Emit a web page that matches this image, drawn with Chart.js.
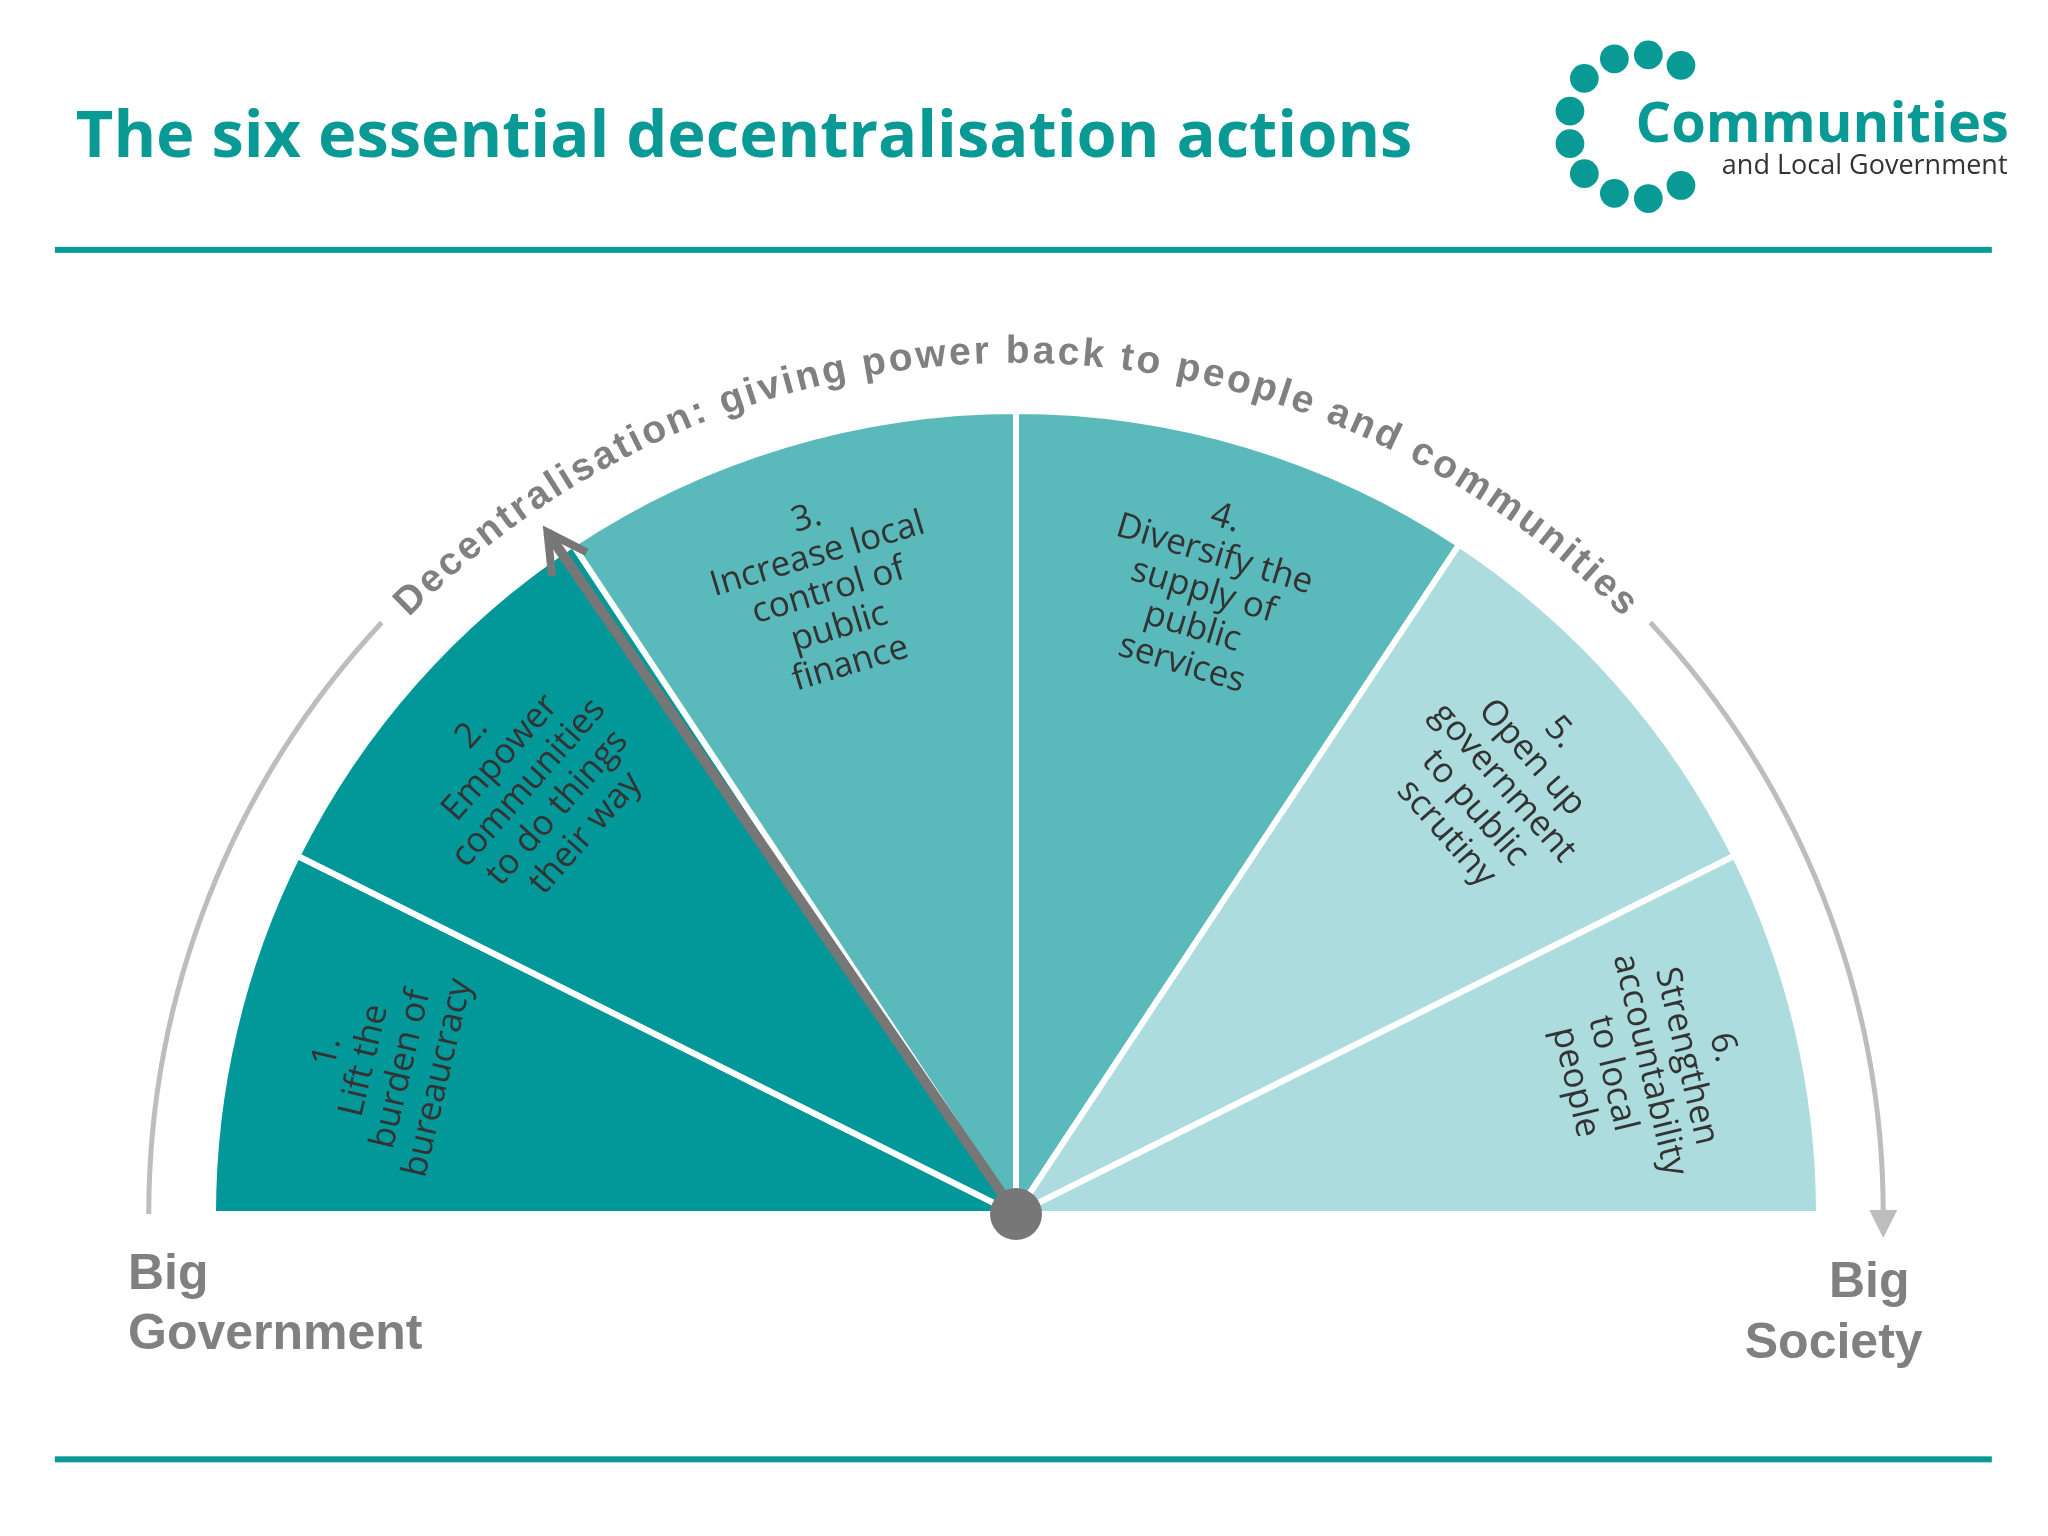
<!DOCTYPE html>
<html><head><meta charset="utf-8">
<script src="https://cdn.jsdelivr.net/npm/chart.js@4.4.1/dist/chart.umd.min.js"></script>
<style>html,body{margin:0;padding:0;background:#fff}canvas{display:block}</style>
</head><body>
<canvas id="c" width="2048" height="1536"></canvas>
<script>
'use strict';
const actions = [
  ['1.', 'Lift the', 'burden of', 'bureaucracy'],
  ['2.', 'Empower', 'communities', 'to do things', 'their way'],
  ['3.', 'Increase local', 'control of', 'public', 'finance'],
  ['4.', 'Diversify the', 'supply of', 'public', 'services'],
  ['5.', 'Open up', 'government', 'to public', 'scrutiny'],
  ['6.', 'Strengthen', 'accountability', 'to local', 'people']
];
const spans = [26.5, 30, 33.5, 33.5, 30, 26.5];
const colors = ['#02989a', '#02989a', '#5ab9ba', '#5ab9ba', '#acdcdd', '#acdcdd'];
const arcTitle = 'Decentralisation: giving power back to people and communities';

const S = 2048 / 1568;
const GREY = '#808080';

const decor = {
  id: 'decor',
  beforeDraw(chart) {
    const ctx = chart.ctx;
    ctx.save();
    ctx.fillStyle = '#fff';
    ctx.fillRect(0, 0, chart.width, chart.height);
    // title
    ctx.fillStyle = '#0a9a96';
    ctx.font = 'bold 65px "Open Sans", sans-serif';
    ctx.textBaseline = 'alphabetic';
    ctx.fillText('The six essential decentralisation actions', 58 * S, 120 * S);
    // rules
    ctx.fillRect(42 * S, 189 * S, 1483 * S, 6);
    ctx.fillRect(42 * S, 1115 * S, 1483 * S, 6);
    // logo dots
    const dots = [[1213,60],[1236,45],[1262,42],[1287,50],[1202,85],[1202,110],[1213,133],[1236,148],[1262,152],[1287,142]];
    dots.forEach(([x, y]) => { ctx.beginPath(); ctx.arc(x * S, y * S, 11 * S, 0, Math.PI * 2); ctx.fill(); });
    ctx.textAlign = 'right';
    ctx.font = 'bold 56px "Open Sans", sans-serif';
    ctx.fillText('Communities', 1538 * S, 109 * S);
    ctx.fillStyle = '#333';
    ctx.font = '27px "Open Sans", sans-serif';
    ctx.fillText('and Local Government', 1537 * S, 133 * S);
    // Big Government / Big Society
    ctx.fillStyle = GREY;
    ctx.font = 'bold 50px "Liberation Sans", Arial, sans-serif';
    ctx.textAlign = 'left';
    ctx.fillText('Big', 98 * S, 987 * S);
    ctx.fillText('Government', 98 * S, 1033 * S);
    ctx.textAlign = 'right';
    ctx.fillText('Big', 1462 * S, 993 * S);
    ctx.fillText('Society', 1472 * S, 1040 * S);
    ctx.restore();
  },
  afterDraw(chart) {
    const ctx = chart.ctx;
    const arcs = chart.getDatasetMeta(0).data;
    const cx = arcs[0].x, cy = arcs[0].y, R = arcs[0].outerRadius;
    ctx.save();
    // outer grey arcs
    const rg = R * 1.08;
    ctx.strokeStyle = '#bdbdbd';
    ctx.lineWidth = 5;
    const d = Math.PI / 180;
    ctx.beginPath(); ctx.arc(cx, cy, rg, Math.PI, 223 * d); ctx.stroke();
    ctx.beginPath(); ctx.arc(cx, cy, rg, -43 * d, 0); ctx.stroke();
    ctx.fillStyle = '#bdbdbd';
    ctx.beginPath();
    ctx.moveTo(cx + rg - 14, cy - 4); ctx.lineTo(cx + rg + 14, cy - 4); ctx.lineTo(cx + rg, cy + 24);
    ctx.closePath(); ctx.fill();
    // curved title
    const rt = R * 1.06;
    ctx.fillStyle = GREY;
    ctx.font = 'bold 39px "Liberation Sans", Arial, sans-serif';
    ctx.textAlign = 'center'; ctx.textBaseline = 'alphabetic';
    const chars = arcTitle.split('');
    const widths = chars.map(c => ctx.measureText(c).width);
    const total = widths.reduce((a, b) => a + b, 0);
    const span = 91 * d;
    const extra = (span * rt - total) / (chars.length - 1);
    let a = -Math.PI / 2 - span / 2;
    chars.forEach((c, i) => {
      const ang = a + widths[i] / 2 / rt;
      ctx.save();
      ctx.translate(cx + rt * Math.cos(ang), cy + rt * Math.sin(ang));
      ctx.rotate(ang + Math.PI / 2);
      ctx.fillText(c, 0, 0);
      ctx.restore();
      a += (widths[i] + extra) / rt;
    });
    // slice labels
    ctx.fillStyle = '#333';
    ctx.font = '35px "Open Sans", sans-serif';
    ctx.textBaseline = 'middle';
    const rl = R * 0.81;
    arcs.forEach((arc, i) => {
      const mid = (arc.startAngle + arc.endAngle) / 2;
      ctx.save();
      ctx.translate(cx + rl * Math.cos(mid), cy + rl * Math.sin(mid));
      ctx.rotate(mid + Math.PI / 2);
      const lines = actions[i];
      const lh = 38;
      lines.forEach((t, j) => ctx.fillText(t, 0, (j - (lines.length - 1) / 2) * lh));
      ctx.restore();
    });
    // needle along boundary of slice 2 / 3
    const na = arcs[1].endAngle - 1 * d;
    const nl = R * 1.03;
    const tx = cx + nl * Math.cos(na), ty = cy + nl * Math.sin(na);
    ctx.strokeStyle = '#777'; ctx.lineWidth = 10; ctx.lineCap = 'butt';
    ctx.beginPath(); ctx.moveTo(cx, cy); ctx.lineTo(tx, ty); ctx.stroke();
    ctx.lineWidth = 8;
    const hl = 44;
    ctx.beginPath();
    ctx.moveTo(tx + hl * Math.cos(na + Math.PI - 0.5), ty + hl * Math.sin(na + Math.PI - 0.5));
    ctx.lineTo(tx, ty);
    ctx.lineTo(tx + hl * Math.cos(na + Math.PI + 0.5), ty + hl * Math.sin(na + Math.PI + 0.5));
    ctx.stroke();
    ctx.fillStyle = '#777';
    ctx.beginPath(); ctx.arc(cx, cy, 26, 0, Math.PI * 2); ctx.fill();
    ctx.restore();
  }
};

new Chart(document.getElementById('c'), {
  type: 'doughnut',
  data: {
    labels: actions.map(a => a.join(' ')),
    datasets: [{ data: spans, backgroundColor: colors, borderColor: '#fff', borderWidth: 6 }]
  },
  options: {
    responsive: false, animation: false, cutout: 0,
    rotation: -90, circumference: 180,
    layout: { padding: { left: 210, right: 226, top: 405, bottom: 316 } },
    plugins: { legend: { display: false }, tooltip: { enabled: false } }
  },
  plugins: [decor]
});
</script>
</body></html>
